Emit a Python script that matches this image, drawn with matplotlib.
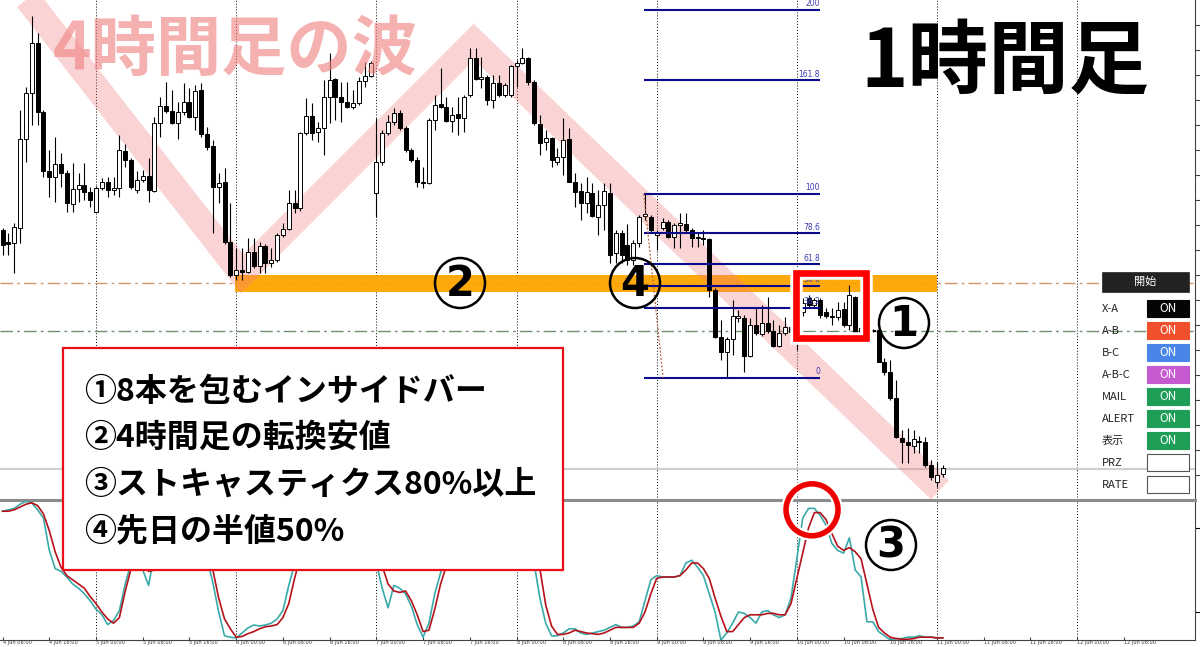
import numpy as np
import matplotlib.pyplot as plt
from matplotlib.patches import Rectangle, Circle, Ellipse

plt.rcParams['font.family'] = ['Noto Sans CJK JP', 'DejaVu Sans']

# hourly bars, price in chart units
opens = [270, 258, 257, 272, 361, 407, 457, 388, 329, 323,
         336, 327, 296, 311, 315, 308, 288, 312, 318, 310,
         312, 349, 340, 310, 320, 324, 309, 377, 394, 389,
         377, 388, 398, 383, 410, 366, 354, 313, 318, 258,
         225, 230, 228, 248, 234, 254, 237, 240, 265, 271,
         297, 292, 367, 384, 368, 372, 403, 421, 403, 398,
         393, 397, 419, 424, 307, 338, 367, 378, 387, 372,
         350, 340, 318, 317, 380, 396, 393, 379, 386, 382,
         405, 442, 421, 423, 400, 417, 405, 405, 434, 437,
         442, 418, 376, 358, 362, 338, 343, 361, 318, 309,
         297, 307, 283, 295, 307, 247, 267, 255, 240, 257,
         284, 283, 265, 272, 278, 263, 275, 276, 270, 262,
         262, 261, 210, 163, 148, 161, 182, 182, 144, 175,
         166, 177, 169, 154, 167, 173, 168, 188, 202, 195,
         200, 188, 184, 183, 191, 175, 203, 168, 172, 170,
         170, 138, 128, 102, 62, 58, 54, 59, 58, 35,
         18, 26]
highs = [272, 267, 277, 390, 413, 484, 467, 390, 350, 363,
         347, 330, 337, 327, 337, 313, 314, 322, 323, 323,
         365, 356, 342, 329, 330, 342, 383, 403, 418, 410,
         398, 417, 412, 415, 417, 373, 360, 327, 332, 297,
         252, 252, 262, 262, 258, 256, 252, 267, 277, 310,
         310, 368, 402, 397, 378, 420, 447, 422, 418, 418,
         410, 423, 438, 439, 382, 370, 385, 392, 390, 374,
         352, 343, 333, 382, 405, 432, 403, 393, 403, 405,
         452, 452, 443, 425, 425, 425, 417, 435, 440, 452,
         443, 420, 385, 370, 363, 352, 382, 372, 327, 317,
         323, 317, 310, 317, 317, 270, 270, 276, 260, 285,
         306, 285, 270, 282, 280, 277, 287, 287, 272, 267,
         270, 262, 212, 180, 163, 200, 190, 185, 182, 193,
         195, 203, 180, 175, 183, 180, 178, 202, 205, 202,
         202, 192, 192, 198, 198, 215, 204, 178, 176, 171,
         171, 142, 140, 120, 70, 72, 70, 64, 63, 40,
         38, 35]
lows = [245, 245, 227, 257, 338, 375, 375, 323, 303, 298,
        313, 288, 288, 298, 300, 293, 288, 310, 303, 305,
        303, 333, 311, 307, 318, 298, 308, 363, 387, 376,
        361, 385, 382, 370, 363, 350, 267, 297, 256, 223,
        220, 220, 227, 232, 227, 227, 233, 238, 263, 270,
        287, 289, 365, 360, 358, 345, 377, 380, 378, 392,
        391, 395, 413, 423, 283, 335, 365, 375, 370, 348,
        338, 313, 312, 316, 370, 392, 378, 368, 365, 368,
        403, 420, 412, 395, 392, 403, 403, 403, 413, 436,
        415, 375, 345, 350, 333, 335, 325, 318, 293, 280,
        287, 283, 265, 270, 237, 237, 237, 235, 235, 253,
        280, 268, 250, 270, 262, 252, 252, 268, 253, 253,
        255, 203, 162, 140, 122, 145, 178, 128, 143, 165,
        164, 167, 153, 153, 165, 162, 150, 184, 192, 192,
        182, 182, 175, 180, 173, 170, 167, 160, 162, 168,
        138, 125, 100, 62, 37, 37, 47, 47, 33, 20,
        13, 23]
closes = [255, 256, 273, 361, 407, 457, 388, 329, 323, 336,
          327, 297, 311, 315, 308, 300, 312, 318, 310, 312,
          350, 340, 313, 320, 324, 310, 377, 394, 389, 377,
          388, 398, 383, 409, 366, 353, 313, 317, 258, 225,
          230, 228, 248, 234, 254, 237, 240, 265, 271, 297,
          292, 367, 384, 367, 372, 403, 420, 403, 398, 393,
          397, 419, 424, 437, 338, 367, 378, 387, 372, 350,
          340, 318, 317, 380, 395, 393, 379, 385, 382, 403,
          442, 421, 423, 400, 417, 405, 415, 434, 437, 442,
          418, 377, 357, 362, 340, 343, 360, 318, 308, 297,
          308, 284, 295, 309, 245, 267, 245, 240, 257, 283,
          286, 270, 268, 278, 263, 275, 277, 270, 262, 263,
          261, 210, 163, 148, 161, 184, 184, 144, 175, 167,
          177, 169, 154, 167, 173, 168, 170, 197, 195, 200,
          185, 184, 183, 190, 175, 205, 168, 172, 165, 169,
          138, 128, 102, 63, 58, 55, 61, 58, 35, 23,
          25, 32]

# stochastic %K (teal) and %D (red)
stoch_k = [92, 93, 94, 97, 99, 98, 93, 87, 64, 51,
           49, 45, 40, 37, 33, 28, 22, 18, 11, 14,
           21, 40, 55, 58, 50, 39, 62, 80, 82, 78,
           80, 88, 84, 92, 75, 58, 41, 20, 3, 2,
           1.4, 5, 8.6, 10.7, 10, 10.7, 12, 15, 21, 39,
           54, 75, 88, 80, 82, 92, 95, 88, 82, 78,
           80, 90, 93, 96, 55, 37, 23, 39, 37, 33,
           24, 11, 2, 12, 33, 48, 58, 62, 60, 75,
           92, 82, 80, 72, 78, 75, 80, 90, 93, 95,
           80, 55, 30, 12, 3, 3, 5, 8, 8, 5,
           4, 5, 6, 7, 9, 11, 9, 9, 10, 13,
           28, 43, 46, 45, 45, 45, 46, 55, 57, 52,
           46, 33, 20, 0, 5, 12, 20, 19, 16, 12,
           20, 21, 18, 16, 18, 30, 58, 87, 94, 94,
           89, 82, 69, 64, 62, 73, 50, 45, 13, 13,
           6, 3, 0, 1, 1, 2, 2, 3, 2, 2,
           1.5, 1.5]
stoch_d = [92, 92, 93, 95, 97, 98, 96, 90, 78, 63,
           52, 46, 43, 40, 37, 31, 26, 20, 15, 12,
           16, 35, 51, 55, 55, 49, 50, 60, 75, 80,
           80, 82, 84, 88, 85, 75, 50, 30, 15, 8,
           2, 2.5, 4.5, 6, 8, 9.5, 10, 11, 16, 26,
           44, 60, 75, 83, 82, 85, 90, 91, 88, 82,
           80, 83, 88, 93, 75, 53, 40, 35, 34, 35,
           28, 18, 6, 7, 22, 40, 53, 58, 60, 66,
           76, 83, 85, 78, 77, 75, 78, 82, 88, 93,
           89, 75, 51, 25, 10, 4, 4, 5, 7, 6,
           5, 4.5, 4, 5, 7, 9, 9, 9, 9, 12,
           20, 33, 44, 45, 45, 45, 46, 50, 55, 55,
           51, 44, 30, 17, 6, 6, 11, 16, 18, 18,
           18, 19, 19, 18, 18, 26, 44, 62, 80, 91,
           91, 86, 76, 67, 64, 66, 63, 58, 40, 22,
           9, 5, 2, 1, 0.5, 0.5, 1, 2, 2, 2,
           1.5, 1.5]

day_lines = [16, 40, 64, 88, 112, 136, 160, 184]

# fibonacci retracement drawn on the chart
fib_low = 122
fib_high = 306
fib_levels = [0, 38.2, 50.0, 61.8, 78.6, 100, 161.8, 200]
fib_labels = ["0", "38.2", "50.0", "61.8", "78.6", "100", "161.8", "200"]
fib_start, fib_end = 109.8, 140.0

# horizontal lines
level_line = 217      # brown dash-dot
green_line = 169      # green dash-dot
bid_line = 31         # light gray
zone_lo, zone_hi = 208, 225
zone_start, zone_end = 39.8, 160.0

# the 4h wave drawn as a pink band
wave_idx = [3.7, 41.0, 80.7, 160.5]
wave_price = [505, 226, 458, 10]

# inside-bar box
ibox = (135.85, 162, 12.0, 65)

notes = ["①8本を包むインサイドバー", "②4時間足の転換安値",
         "③ストキャスティクス80%以上", "④先日の半値50%"]

panel_labels = ["X-A", "A-B", "B-C", "A-B-C", "MAIL", "ALERT", "表示", "PRZ", "RATE"]
panel_colors = ["#050505", "#f0512c", "#4a86e8", "#c459d0", "#1f9e58",
                "#1f9e58", "#1f9e58", "white", "white"]
panel_text = ["ON"] * 7 + ["", ""]

# time axis labels
tick_pos = list(range(0, 200, 8))
tick_lab = ["%d Jun %02d:00" % (4 + (t + 8) // 24, (t + 8) % 24) for t in tick_pos]

opens = np.array(opens, float)
highs = np.array(highs, float)
lows = np.array(lows, float)
closes = np.array(closes, float)
idx = np.arange(len(opens))

fig = plt.figure(figsize=(12, 6.47), dpi=100)
ax = fig.add_axes([0, 147 / 647, 1195 / 1200, 500 / 647])
ax_st = fig.add_axes([0, 7 / 647, 1195 / 1200, 140 / 647])
ov = fig.add_axes([0, 0, 1, 1])

xmin, xmax = -2.6 / 5.84, (1195 - 2.6) / 5.84

# ---- price panel ----
for g in day_lines:
    ax.axvline(g, color='black', lw=0.7, ls=(0, (1, 2)), zorder=1)
ax.axhline(level_line, color='#d39468', lw=1, ls=(0, (9, 3, 2, 3)), zorder=1.5)
ax.axhline(green_line, color='#6f906f', lw=1, ls=(0, (9, 3, 2, 3)), zorder=1.5)
ax.axhline(bid_line, color='#cfcfcf', lw=1.5, zorder=1.5)

ax.add_patch(Rectangle((zone_start, zone_lo), zone_end - zone_start, zone_hi - zone_lo,
                       color='#ffa500', alpha=0.95, lw=0, zorder=2))
ax.plot(wave_idx, wave_price, color='#f27c7c', alpha=0.32, lw=18.7,
        solid_joinstyle='miter', solid_capstyle='butt', zorder=2.5)

up = closes >= opens
body_lo = np.minimum(opens, closes)
body_h = np.maximum(np.abs(closes - opens), 0.8)
ax.vlines(idx, lows, highs, color='black', lw=0.8, zorder=3)
ax.bar(idx, body_h, bottom=body_lo, width=0.68,
       color=np.where(up, 'white', 'black'), edgecolor='black', lw=0.7, zorder=4)

for lv, lab in zip(fib_levels, fib_labels):
    p = fib_low + (fib_high - fib_low) * lv / 100
    ax.hlines(p, fib_start, fib_end, color='#0a0a8a', lw=1.5, zorder=5)
    ax.text(fib_end, p + 1.5, lab, ha='right', va='bottom', fontsize=5.5,
            color='#3b3bb0', zorder=5, family='DejaVu Sans')
ax.plot([fib_start, fib_start + 3.3], [fib_high, fib_low], color='#b0603a',
        lw=0.9, ls=(0, (1.5, 1.5)), zorder=5)

ax.add_patch(Rectangle(ibox[:2], ibox[2], ibox[3], fill=False, ec='white', lw=9, zorder=6))
ax.add_patch(Rectangle(ibox[:2], ibox[2], ibox[3], fill=False, ec='#ff0000', lw=4.8, zorder=6.1))

ax.set_xlim(xmin, xmax)
ax.set_ylim(0, 500)
for s in ['top', 'left', 'bottom']:
    ax.spines[s].set_visible(False)
ax.spines['right'].set_color('#444444')
ax.set_xticks([])
ax.set_yticks(np.arange(25, 500, 25))
ax.tick_params(axis='y', left=False, right=True, labelleft=False, labelright=False,
               length=4, color='#444444')

# ---- stochastic panel ----
for g in day_lines:
    ax_st.axvline(g, color='black', lw=0.7, ls=(0, (1, 2)), zorder=1)
ax_st.plot(idx, stoch_k, color='#3aa9a9', lw=1.2, zorder=3)
ax_st.plot(idx, stoch_d, color='#b5121b', lw=1.2, zorder=3)

peak_i = 130 + int(np.argmax(stoch_k[130:150]))
ring = (peak_i + 0.6, stoch_k[peak_i] - 1)
ax_st.add_patch(Ellipse(ring, 8.9, 37.1, fill=False, ec='white', lw=7, clip_on=False, zorder=6))
ax_st.add_patch(Ellipse(ring, 8.9, 37.1, fill=False, ec='#ee0000', lw=4, clip_on=False, zorder=6.1))

ax_st.set_xlim(xmin, xmax)
ax_st.set_ylim(0, 100)
ax_st.spines['left'].set_visible(False)
ax_st.spines['top'].set_color('#8c8c8c')
ax_st.spines['top'].set_linewidth(2.2)
ax_st.spines['right'].set_color('#444444')
ax_st.spines['bottom'].set_color('#444444')
ax_st.set_yticks([20, 80])
ax_st.tick_params(axis='y', left=False, right=True, labelleft=False, length=4)
ax_st.set_xticks(tick_pos)
ax_st.set_xticklabels(tick_lab, fontsize=3.6, family='DejaVu Sans', ha='left',
                      color='#333333')
ax_st.tick_params(axis='x', direction='in', length=2, pad=0.3, color='#444444')
ax_st.patch.set_alpha(0)
ax.patch.set_alpha(0)

# ---- overlay in pixel coordinates ----
ov.set_xlim(0, 1200)
ov.set_ylim(647, 0)
ov.axis('off')
ov.patch.set_alpha(0)

ov.text(53, 50, "4時間足の波", fontsize=47, fontweight='bold', color='#f08080',
        alpha=0.62, ha='left', va='center')
ov.text(860, 63, "1時間足", fontsize=58, fontweight='bold', color='black',
        ha='left', va='center')

for num, cx, cy in [("1", 904, 323), ("2", 460, 283), ("3", 891, 545), ("4", 635, 283)]:
    ov.add_patch(Circle((cx, cy), 25, fill=False, ec='black', lw=1.8))
    ov.text(cx, cy + 1, num, fontsize=30, fontweight='bold', ha='center', va='center',
            family='DejaVu Sans')

ov.add_patch(Rectangle((63, 348), 500, 222, fc='white', ec='#e8101a', lw=1.6))
for k, line in enumerate(notes):
    ov.text(84, 392 + 46.3 * k, line, fontsize=23, fontweight='bold', ha='left', va='center')

ov.add_patch(Rectangle((1102, 272), 87, 20, fc='#222222', ec='#222222', lw=0.5))
ov.text(1145.5, 282, "開始", fontsize=8, color='white', ha='center', va='center')
for k, (lab, col, txt) in enumerate(zip(panel_labels, panel_colors, panel_text)):
    top = 300 + 22 * k
    ov.text(1102, top + 8.5, lab, fontsize=8, color='#222222', ha='left', va='center')
    ov.add_patch(Rectangle((1147, top), 42, 17, fc=col, ec='#555555' if col == 'white' else col, lw=0.8))
    if txt:
        ov.text(1168, top + 8.5, txt, fontsize=8.5, color='white', ha='center', va='center')

fig.savefig("out.png", dpi=100)
